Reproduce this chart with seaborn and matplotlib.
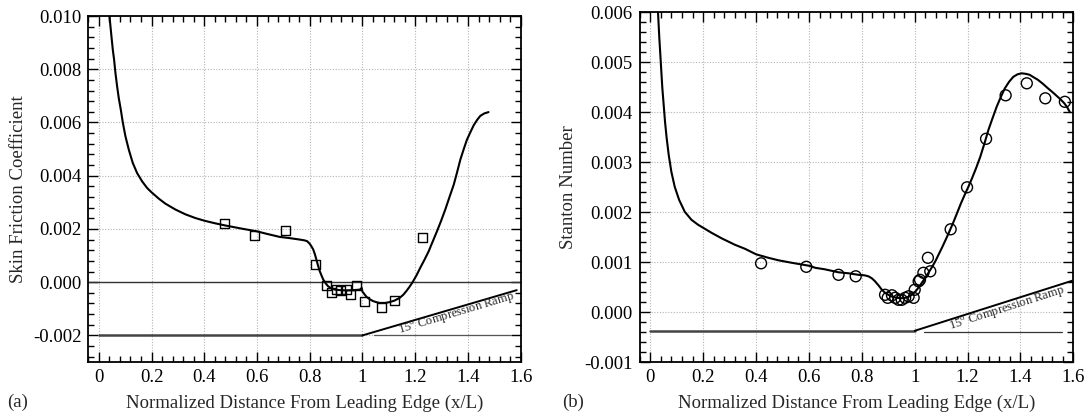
import numpy as np
import pandas as pd
import matplotlib
matplotlib.use("Agg")
import matplotlib.pyplot as plt
import seaborn as sns
from matplotlib.ticker import FixedLocator, FixedFormatter, MultipleLocator

# ---------------- data ----------------
# (a) skin friction, computed curve
cf_x = [0.0404, 0.0442, 0.0479, 0.0530, 0.0580, 0.0631, 0.0694, 0.0757, 0.0833, 0.0909,
        0.1009, 0.1136, 0.1287, 0.1451, 0.1640, 0.1830, 0.1994, 0.2271, 0.2524, 0.2902,
        0.3281, 0.3659, 0.4000, 0.4416, 0.4795, 0.5426, 0.5994, 0.631, 0.686, 0.720,
        0.762, 0.780, 0.790, 0.800, 0.806, 0.813, 0.820, 0.825, 0.832, 0.838,
        0.845, 0.851, 0.860, 0.869, 0.880, 0.895, 0.915, 0.939, 0.965, 0.990,
        0.997, 1.000, 1.008, 1.015, 1.027, 1.040, 1.052, 1.065, 1.085, 1.103,
        1.122, 1.141, 1.155, 1.166, 1.178, 1.190, 1.205, 1.219, 1.235, 1.251,
        1.266, 1.282, 1.298, 1.314, 1.330, 1.346, 1.358, 1.371, 1.384, 1.396,
        1.410, 1.422, 1.435, 1.447, 1.462, 1.478]
cf_y = [0.0100, 0.0096, 0.00923, 0.00873, 0.00835, 0.00785, 0.00735, 0.00691, 0.00648, 0.0060,
        0.00548, 0.00498, 0.00448, 0.0041, 0.00379, 0.00354, 0.00338, 0.00314, 0.00295, 0.00273,
        0.00255, 0.00241, 0.00231, 0.00221, 0.00213, 0.00201, 0.00191, 0.00183, 0.00170, 0.00166,
        0.00160, 0.00157, 0.00154, 0.00144, 0.00135, 0.00123, 0.00103, 0.00085, 0.00060, 0.00041,
        0.00024, 0.00010, -0.00004, -0.00015, -0.00022, -0.00028, -0.00030, -0.00031, -0.00030, -0.00028,
        -0.00022, -0.00036, -0.00046, -0.00055, -0.00064, -0.00071, -0.00075, -0.00078, -0.00078, -0.00075,
        -0.00069, -0.00059, -0.00047, -0.00034, -0.00018, 0.0, 0.00026, 0.00054, 0.00084, 0.00116,
        0.00152, 0.00190, 0.00230, 0.00273, 0.00320, 0.00366, 0.00410, 0.00460, 0.00500, 0.00535,
        0.00565, 0.00590, 0.00610, 0.00625, 0.00634, 0.00639]
# (a) skin friction, experiment
cf_exp_x = [0.477, 0.590, 0.708, 0.822, 0.865, 0.881, 0.900, 0.915, 0.938, 0.956,
            0.976, 1.006, 1.071, 1.120, 1.229]
cf_exp_y = [0.00221, 0.00175, 0.00193, 0.00066, -0.000125, -0.00039, -0.00029, -0.00030, -0.00029, -0.00045,
            -0.000125, -0.000725, -0.00095, -0.000675, 0.00169]

# (b) Stanton number, computed curve
st_x = [0.0291, 0.0316, 0.0342, 0.0380, 0.0418, 0.0456, 0.0506, 0.0557, 0.0620, 0.0696,
        0.0797, 0.0924, 0.1089, 0.1304, 0.1557, 0.1810, 0.2000, 0.2316, 0.2696, 0.3203,
        0.3582, 0.4000, 0.4468, 0.4848, 0.5354, 0.6013, 0.6241, 0.660, 0.712, 0.750,
        0.787, 0.810, 0.825, 0.838, 0.850, 0.863, 0.876, 0.888, 0.900, 0.916,
        0.932, 0.948, 0.964, 0.977, 0.989, 1.000, 1.008, 1.018, 1.027, 1.040,
        1.052, 1.065, 1.078, 1.090, 1.103, 1.118, 1.134, 1.147, 1.160, 1.175,
        1.190, 1.203, 1.216, 1.232, 1.248, 1.264, 1.279, 1.295, 1.310, 1.326,
        1.341, 1.357, 1.373, 1.389, 1.404, 1.420, 1.435, 1.450, 1.466, 1.485,
        1.504, 1.522, 1.541, 1.555, 1.566, 1.577, 1.587]
st_y = [0.0060, 0.00575, 0.00548, 0.00515, 0.00481, 0.00448, 0.00415, 0.00381, 0.00348, 0.00315,
        0.00281, 0.00251, 0.00225, 0.00201, 0.00185, 0.00175, 0.00169, 0.00159, 0.00148, 0.00135,
        0.00127, 0.00116, 0.00109, 0.00104, 0.00099, 0.00093, 0.00089, 0.00086, 0.00080, 0.00078,
        0.00075, 0.00074, 0.00072, 0.00068, 0.00062, 0.00054, 0.00045, 0.00039, 0.00035, 0.00031,
        0.00029, 0.00028, 0.00029, 0.00031, 0.00035, 0.00040, 0.00045, 0.00052, 0.00059, 0.00069,
        0.00079, 0.00090, 0.00102, 0.00115, 0.00129, 0.00146, 0.00165, 0.00181, 0.00198, 0.00218,
        0.00236, 0.00251, 0.00267, 0.00288, 0.00311, 0.00338, 0.00365, 0.00389, 0.00411, 0.00431,
        0.00448, 0.00461, 0.00471, 0.00476, 0.00478, 0.00477, 0.00475, 0.00470, 0.00465, 0.00457,
        0.00448, 0.00440, 0.00431, 0.00424, 0.00418, 0.00410, 0.00400]
# (b) Stanton number, experiment
st_exp_x = [0.419, 0.590, 0.712, 0.777, 0.888, 0.898, 0.914, 0.926, 0.939, 0.951,
            0.964, 0.977, 0.996, 1.000, 1.015, 1.020, 1.033, 1.050, 1.059, 1.136,
            1.198, 1.270, 1.344, 1.424, 1.494, 1.568]
st_exp_y = [0.00098, 0.00091, 0.00075, 0.00072, 0.00035, 0.00029, 0.00034, 0.00029, 0.00025, 0.00025,
            0.00029, 0.00032, 0.00029, 0.00045, 0.00062, 0.00065, 0.00079, 0.00109, 0.00082, 0.00166,
            0.00250, 0.00347, 0.00434, 0.00458, 0.00428, 0.00421]

# ramp sketches (plate + 15 deg ramp) drawn in data units of each panel
ramp_a_x = [0.0, 1.0, 1.585]
ramp_a_y = [-0.002, -0.002, -0.0003]
ref_a_x = [1.042, 1.558]
ref_a_y = [-0.002, -0.002]
ramp_b_x = [0.0, 1.0, 1.595]
ramp_b_y = [-0.00037, -0.00037, 0.00063]
ref_b_x = [1.036, 1.557]
ref_b_y = [-0.0004, -0.0004]

# ticks
x_ticks = [0, 0.2, 0.4, 0.6, 0.8, 1.0, 1.2, 1.4, 1.6]
x_ticklabels = ["0", "0.2", "0.4", "0.6", "0.8", "1", "1.2", "1.4", "1.6"]
cf_ticks = [-0.002, 0.0, 0.002, 0.004, 0.006, 0.008, 0.010]
cf_ticklabels = ["-0.002", "0.000", "0.002", "0.004", "0.006", "0.008", "0.010"]
st_ticks = [-0.001, 0.0, 0.001, 0.002, 0.003, 0.004, 0.005, 0.006]
st_ticklabels = ["-0.001", "0.000", "0.001", "0.002", "0.003", "0.004", "0.005", "0.006"]

xlabel = "Normalized Distance From Leading Edge (x/L)"
ramp_label = "15$^{\\mathrm{o}}$ Compression Ramp"

# ---------------- styling ----------------
sns.set_theme(style="ticks")
plt.rcParams["font.family"] = ["Liberation Serif", "DejaVu Serif"]
plt.rcParams["mathtext.fontset"] = "custom"
plt.rcParams["mathtext.rm"] = "Liberation Serif"
plt.rcParams["axes.unicode_minus"] = False

fig = plt.figure(figsize=(10.9, 4.16), dpi=100)
ax_a = fig.add_axes([0.081, 0.1298, 0.3967, 0.8317])
ax_b = fig.add_axes([0.5869, 0.1291, 0.3978, 0.8413])

LINE_KW = dict(color="black", linewidth=1.5, sort=False, estimator=None)


def style_axes(ax, yticks, yticklabels, yminor):
    ax.set_xlim(-0.04, 1.6)
    ax.xaxis.set_major_locator(FixedLocator(x_ticks))
    ax.xaxis.set_major_formatter(FixedFormatter(x_ticklabels))
    ax.xaxis.set_minor_locator(MultipleLocator(0.04))
    ax.yaxis.set_major_locator(FixedLocator(yticks))
    ax.yaxis.set_major_formatter(FixedFormatter(yticklabels))
    ax.yaxis.set_minor_locator(MultipleLocator(yminor))
    ax.tick_params(which="both", direction="in", top=True, right=True,
                   colors="black", labelsize=13.5, width=1.0)
    ax.tick_params(which="major", length=7, pad=5)
    ax.tick_params(which="minor", length=4)
    ax.grid(True, which="major", linestyle=(0, (1, 1.5)), color="#b5b5b5", linewidth=0.8)
    ax.set_axisbelow(True)
    for s in ax.spines.values():
        s.set_color("black")
        s.set_linewidth(1.3)
    ax.set_facecolor("white")


# ---------------- panel (a) ----------------
ax = ax_a
ax.axhline(0.0, color="#333333", linewidth=1.0, zorder=1)
sns.lineplot(x=ramp_a_x[:2], y=ramp_a_y[:2], ax=ax, color="#444444", linewidth=1.8,
             sort=False, estimator=None)
sns.lineplot(x=ramp_a_x[1:], y=ramp_a_y[1:], ax=ax, color="black", linewidth=1.4,
             sort=False, estimator=None)
sns.lineplot(x=ref_a_x, y=ref_a_y, ax=ax, color="#555555", linewidth=0.9,
             sort=False, estimator=None)
sns.lineplot(x=cf_x, y=cf_y, ax=ax, **LINE_KW)
sns.scatterplot(x=cf_exp_x, y=cf_exp_y, ax=ax, marker="s", s=42,
                facecolor="none", edgecolor="black", linewidth=1.0, zorder=5)
ax.text(1.14, -0.00196, ramp_label, rotation=16.7, rotation_mode="anchor",
        ha="left", va="baseline", fontsize=9)
style_axes(ax, cf_ticks, cf_ticklabels, 0.0004)
ax.set_ylim(-0.003, 0.010)
ax.set_ylabel("Skin Friction Coefficient", fontsize=13.5, labelpad=4)
ax.set_xlabel(xlabel, fontsize=13.5, labelpad=6)

# ---------------- panel (b) ----------------
ax = ax_b
sns.lineplot(x=ramp_b_x[:2], y=ramp_b_y[:2], ax=ax, color="#444444", linewidth=1.8,
             sort=False, estimator=None)
sns.lineplot(x=ramp_b_x[1:], y=ramp_b_y[1:], ax=ax, color="black", linewidth=1.4,
             sort=False, estimator=None)
sns.lineplot(x=ref_b_x, y=ref_b_y, ax=ax, color="#333333", linewidth=0.9,
             sort=False, estimator=None)
sns.lineplot(x=st_x, y=st_y, ax=ax, **LINE_KW)
sns.scatterplot(x=st_exp_x, y=st_exp_y, ax=ax, marker="o", s=62,
                facecolor="none", edgecolor="black", linewidth=1.0, zorder=5)
ax.text(1.134, -0.00035, ramp_label, rotation=17.8, rotation_mode="anchor",
        ha="left", va="baseline", fontsize=9)
style_axes(ax, st_ticks, st_ticklabels, 0.0002)
ax.set_ylim(-0.001, 0.006)
ax.set_ylabel("Stanton Number", fontsize=13.5, labelpad=5)
ax.set_xlabel(xlabel, fontsize=13.5, labelpad=6)

fig.text(18 / 1090, 1 - 402 / 416, "(a)", fontsize=13.5, ha="center", va="center")
fig.text(573 / 1090, 1 - 402 / 416, "(b)", fontsize=13.5, ha="center", va="center")

fig.savefig("out.png", dpi=100, facecolor="white")
